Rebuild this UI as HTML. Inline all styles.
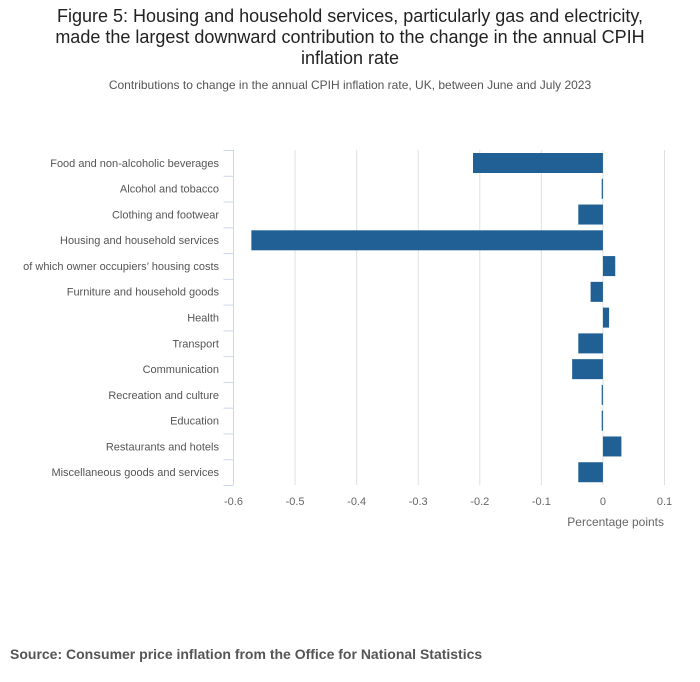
<!DOCTYPE html>
<html><head><meta charset="utf-8"><style>
body{margin:0;background:#fff;width:700px;height:682px;overflow:hidden;font-family:"Liberation Sans",sans-serif;}
#title{position:absolute;left:0;width:700px;top:6px;text-align:center;font-size:18px;line-height:21px;color:#222;}
#sub{position:absolute;left:0;width:700px;top:78px;text-align:center;font-size:12px;color:#555;}
#src{position:absolute;left:10px;top:646px;font-size:14px;font-weight:bold;color:#555;}
</style></head><body>
<div id="title">Figure 5: Housing and household services, particularly gas and electricity,<br>made the largest downward contribution to the change in the annual CPIH<br>inflation rate</div>
<div id="sub">Contributions to change in the annual CPIH inflation rate, UK, between June and July 2023</div>
<svg id="chart" width="700" height="682" style="position:absolute;left:0;top:0"></svg>
<div id="src">Source: Consumer price inflation from the Office for National Statistics</div>
<script>
const categories=["Food and non-alcoholic beverages","Alcohol and tobacco","Clothing and footwear","Housing and household services","of which owner occupiers’ housing costs","Furniture and household goods","Health","Transport","Communication","Recreation and culture","Education","Restaurants and hotels","Miscellaneous goods and services"];
const values=[-0.211,-0.002,-0.04,-0.571,0.02,-0.02,0.01,-0.04,-0.05,-0.002,-0.002,0.03,-0.04];
const ticks=[-0.6,-0.5,-0.4,-0.3,-0.2,-0.1,0,0.1];
const tickLabels=["-0.6","-0.5","-0.4","-0.3","-0.2","-0.1","0","0.1"];
const NS="http://www.w3.org/2000/svg",svg=document.getElementById('chart');
const x0=233.5,x1=664.5,yTop=150,yBot=485;
const xs=v=>x0+(v+0.6)/0.7*(x1-x0);
const rowH=(yBot-yTop)/categories.length;
const ys=i=>yTop+i*rowH;
function mk(t,a,p){const e=document.createElementNS(NS,t);for(const k in a)e.setAttribute(k,a[k]);(p||svg).appendChild(e);return e;}
ticks.forEach((t,i)=>{
 if(i>0){const g=mk('line',{x1:xs(t),x2:xs(t),y1:yTop,y2:yBot,stroke:'#e0e0e0','stroke-width':1});
 
 }
 const l=mk('text',{x:xs(t),y:505,'text-anchor':'middle','font-size':11,fill:'#666'});
 l.textContent=tickLabels[i];
 
 
});
const ax=mk('line',{x1:x0,x2:x0,y1:yTop,y2:yBot,stroke:'#ccd6eb','stroke-width':1});


for(let i=0;i<=categories.length;i++){
 const tk=mk('line',{x1:x0-10,x2:x0,y1:ys(i)+0.5,y2:ys(i)+0.5,stroke:'#ccd6eb','stroke-width':1});
 
 
}
categories.forEach((c,i)=>{
 const t=mk('text',{x:219,y:ys(i)+rowH/2+4,'text-anchor':'end','font-size':11,fill:'#555'});
 t.textContent=c;
 
 
 const v=values[i],a=xs(Math.min(v,0)),b=xs(Math.max(v,0));
 const r=mk('rect',{x:a,y:ys(i)+3,width:Math.max(b-a,1),height:20,fill:'#206095'});
 
 
});
const at=mk('text',{x:664,y:526,'text-anchor':'end','font-size':12,fill:'#666'});
at.textContent='Percentage points';


</script>
</body></html>
